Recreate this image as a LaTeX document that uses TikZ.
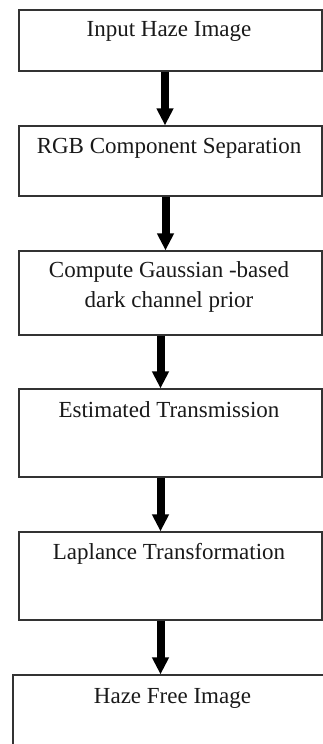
\documentclass[tikz,border=0pt]{standalone}
\usepackage{fontspec}
\setmainfont{Liberation Serif}
\usetikzlibrary{arrows.meta,calc}
\begin{document}
\begin{tikzpicture}[x=1pt,y=-1pt,
  box/.style={draw=black!80,line width=1.2pt,rectangle,inner sep=0pt},
  lbl/.style={anchor=base,inner sep=0pt,font=\fontsize{23}{30}\selectfont,text=black!90},
  arr/.style={line width=8pt,-{Triangle[width=16pt,length=17pt]}}]
\useasboundingbox (0,0) rectangle (323,744);
\clip (0,0) rectangle (323,744);
\node[box,minimum width=303pt,minimum height=61pt] (b1) at (170.5,40.5) {};
\node[box,minimum width=303pt,minimum height=70pt] (b2) at (170.5,161) {};
\node[box,minimum width=303pt,minimum height=84pt] (b3) at (170.5,293) {};
\node[box,minimum width=303pt,minimum height=88pt] (b4) at (170.5,433) {};
\node[box,minimum width=303pt,minimum height=88pt] (b5) at (170.5,576) {};
\node[box,minimum width=319pt,minimum height=80pt] (b6) at (172.5,715) {};
\node[lbl] (t1) at (169,36) {Input Haze Image};
\node[lbl] (t2) at (169,153) {RGB Component Separation};
\node[lbl] (t3a) at (169,277) {Compute Gaussian -based};
\node[lbl] (t3b) at (169,307) {dark channel prior};
\node[lbl] (t4) at (169,417) {Estimated Transmission};
\node[lbl] (t5) at (169,559) {Laplance Transformation};
\node[lbl] (t6) at (172.5,703) {Haze Free Image};
\draw[arr] ($(b1.south)+(-5.5,0)$) -- ($(b2.north)+(-5.5,0)$);
\draw[arr] ($(b2.south)+(-5,0)$) -- ($(b3.north)+(-5,0)$);
\draw[arr] ($(b3.south)+(-10,0)$) -- ($(b4.north)+(-10,0)$);
\draw[arr] ($(b4.south)+(-10,0)$) -- ($(b5.north)+(-10,0)$);
\draw[arr] ($(b5.south)+(-10,0)$) -- ($(b6.north)+(-12,0)$);
\end{tikzpicture}
\end{document}
